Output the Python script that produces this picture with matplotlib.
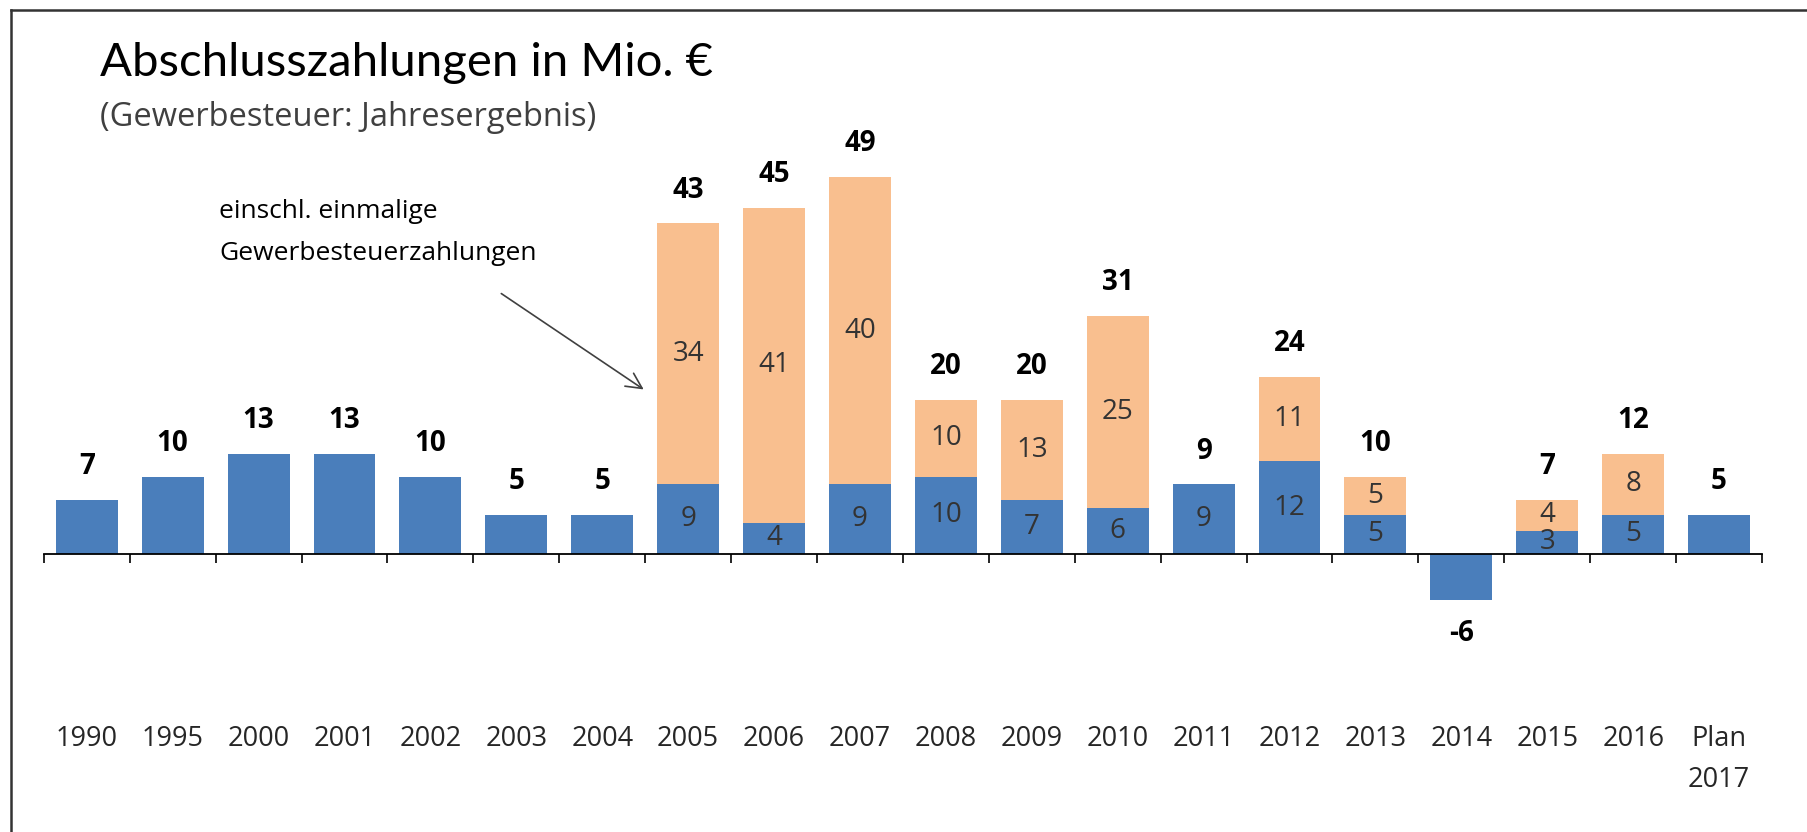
import matplotlib
matplotlib.use('Agg')
import matplotlib.pyplot as plt
import matplotlib.transforms as mtransforms
from matplotlib.lines import Line2D

# Daten (Mio. EUR)
jahre = ['1990', '1995', '2000', '2001', '2002', '2003', '2004', '2005', '2006', '2007',
         '2008', '2009', '2010', '2011', '2012', '2013', '2014', '2015', '2016', 'Plan\n2017']
basis = [7, 10, 13, 13, 10, 5, 5, 9, 4, 9, 10, 7, 6, 9, 12, 5, -6, 3, 5, 5]
einmalig = [0, 0, 0, 0, 0, 0, 0, 34, 41, 40, 10, 13, 25, 0, 11, 5, 0, 4, 8, 0]
gesamt = [7, 10, 13, 13, 10, 5, 5, 43, 45, 49, 20, 20, 31, 9, 24, 10, -6, 7, 12, 5]
# Jahre, bei denen der Basiswert im Balken steht
basis_beschriftet = ['2005', '2006', '2007', '2008', '2009', '2010', '2011', '2012',
                     '2013', '2015', '2016']

blau = '#4a7ebb'
orange = '#f9bf8f'
schrift = 'Open Sans'

W, H = 1808, 832
fig = plt.figure(figsize=(W / 100, H / 100), dpi=100)
ax = fig.add_axes([43.8 / W, 0, (1762 - 43.8) / W, 1])
ax.set_xlim(-0.5, len(jahre) - 0.5)
ax.set_ylim(-(H - 553.6) / 7.68, 553.6 / 7.68)

x = list(range(len(jahre)))
ax.bar(x, basis, width=0.72, color=blau, zorder=2)
ax.bar(x, einmalig, width=0.72, bottom=[max(b, 0) for b in basis], color=orange, zorder=2)

for spine in ['left', 'right', 'top']:
    ax.spines[spine].set_visible(False)
ax.spines['bottom'].set_position(('data', 0))
ax.spines['bottom'].set_linewidth(1.3)
ax.spines['bottom'].set_zorder(3)
ax.set_yticks([])
ax.set_xticks([i - 0.5 for i in range(len(jahre) + 1)])
ax.set_xticklabels([])
ax.tick_params(axis='x', direction='out', length=6.5, width=1.2)

# Jahresbeschriftung: x in Daten, y in Zoll von unten
trans = mtransforms.blended_transform_factory(ax.transData, fig.dpi_scale_trans)
for i, jahr in enumerate(jahre):
    ax.text(i, 1.07, jahr, transform=trans, ha='center', va='top', fontsize=19.5,
            family=schrift, color='#262626', linespacing=1.6)

for i, jahr in enumerate(jahre):
    b, e, g = basis[i], einmalig[i], gesamt[i]
    oben = max(b, 0) + e
    if g >= 0:
        ax.annotate(str(g), (i, oben), xytext=(0, 24), textcoords='offset points',
                    ha='center', va='center', fontsize=20, fontweight='bold',
                    family=schrift, color='black')
    else:
        ax.annotate(str(g), (i, b), xytext=(0, -24), textcoords='offset points',
                    ha='center', va='center', fontsize=20, fontweight='bold',
                    family=schrift, color='black')
    if jahr in basis_beschriftet:
        ax.text(i, b / 2, str(b), ha='center', va='center', fontsize=20, family=schrift,
                color='#333333', zorder=4)
    if e > 0:
        ax.text(i, b + e / 2, str(e), ha='center', va='center', fontsize=20, family=schrift,
                color='#333333', zorder=4)

# Titel
fig.text(100 / W, 1 - 63 / H, 'Abschlusszahlungen in Mio. €', fontsize=34, family='Lato',
         ha='left', va='center', color='black')
fig.text(100 / W, 1 - 118 / H, '(Gewerbesteuer: Jahresergebnis)', fontsize=23.5,
         family=schrift, ha='left', va='center', color='#404040')

# Hinweis mit Pfeil
fig.text(219 / W, 1 - 211 / H, 'einschl. einmalige', fontsize=19, family=schrift,
         ha='left', va='center')
fig.text(219 / W, 1 - 254 / H, 'Gewerbesteuerzahlungen', fontsize=19, family=schrift,
         ha='left', va='center')
ax.annotate('', xy=(646, H - 391), xycoords='figure pixels',
            xytext=(499, H - 292), textcoords='figure pixels',
            arrowprops=dict(arrowstyle='->', color='#404040', lw=1.2, mutation_scale=28))

# Rahmen
fig.add_artist(Line2D([11 / W, 11 / W], [0, 1 - 10 / H], color='#333333', lw=1.8,
                      transform=fig.transFigure))
fig.add_artist(Line2D([11 / W, 1], [1 - 10 / H, 1 - 10 / H], color='#333333', lw=1.8,
                      transform=fig.transFigure))

fig.savefig('out.png', dpi=100)
